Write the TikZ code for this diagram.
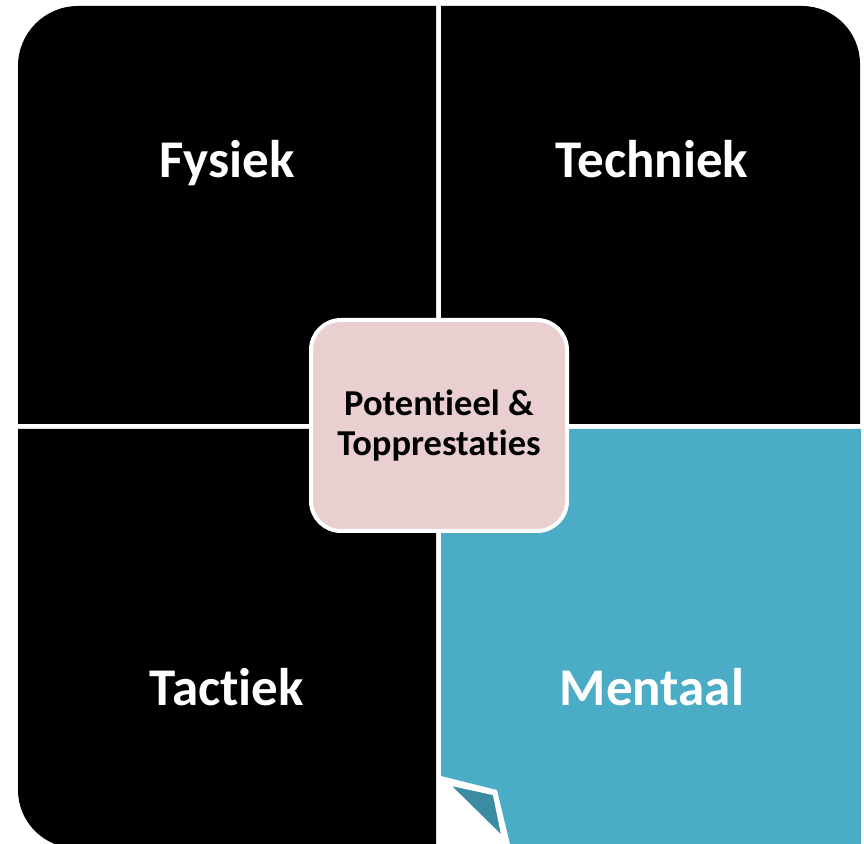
\documentclass[tikz,border=0pt]{standalone}
\usepackage{fontspec}
\setmainfont{Carlito}[Ligatures=NoCommon]
\definecolor{tealfill}{HTML}{4BACC6}
\definecolor{tealfold}{HTML}{3B8CA1}
\definecolor{pinkfill}{HTML}{E9CFD0}
\begin{document}
\begin{tikzpicture}[x=1pt,y=1pt,
  quadlabel/.style={text=white, font=\bfseries\fontsize{53}{60}\selectfont, anchor=base},
  centrebox/.style={fill=pinkfill, draw=white, line width=4pt, rounded corners=30pt,
    minimum width=256pt, minimum height=211pt, align=center,
    font=\bfseries\fontsize{36.5}{40}\selectfont}]
\useasboundingbox (0,0) rectangle (864,843);
% quadrants
\fill[black] (18,419) -- (18,777) arc[start angle=180, end angle=90, radius=60] -- (436,837) -- (436,419) -- cycle;
\fill[black] (441,419) -- (441,837) -- (802,837) arc[start angle=90, end angle=0, radius=58] -- (860,419) -- cycle;
\fill[black] (18,414) -- (18,53) arc[start angle=180, end angle=270, radius=58] -- (436,-5) -- (436,414) -- cycle;
\fill[tealfill] (441,414) -- (441,67) -- (497,53) -- (511,-5) -- (861,-5) -- (861,414) -- cycle;
\filldraw[fill=tealfold, draw=white, line width=2.5pt, line join=round] (448,59) -- (494,49) -- (503,5) -- cycle;
% labels
\node[quadlabel] (fysiek) at (227,665) {Fysiek};
\node[quadlabel] (techniek) at (652,665) {Techniek};
\node[quadlabel] (tactiek) at (227,137) {Tactiek};
\node[quadlabel] (mentaal) at (652,137) {Mentaal};
\node[centrebox] (potentieel) at (439,417.5) {Potentieel \&\\Topprestaties};
\end{tikzpicture}
\end{document}
